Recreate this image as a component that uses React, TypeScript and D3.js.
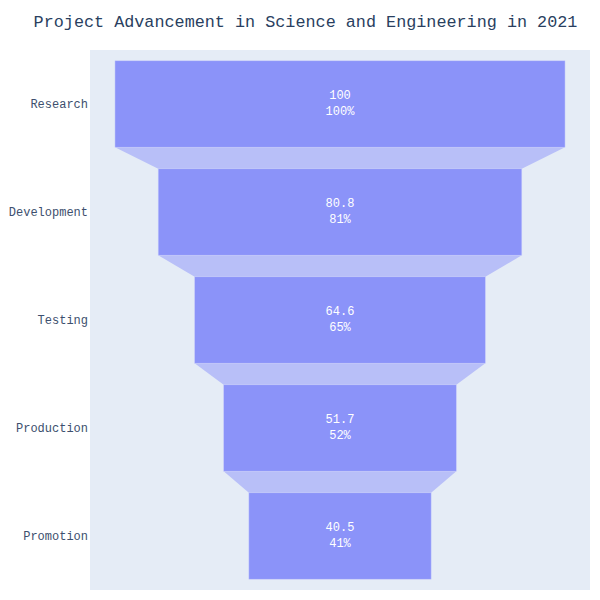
import React from "react";
import * as d3 from "d3";

// funnel stages and values
const stages = ["Research", "Development", "Testing", "Production", "Promotion"];
const values = [100, 80.8, 64.6, 51.7, 40.5];

const W = 600;
const H = 600;
const margin = { top: 50, right: 10, bottom: 10, left: 90 };
const font = "'Liberation Mono', 'Courier New', monospace";

export default function App() {
  const plotW = W - margin.left - margin.right;
  const plotH = H - margin.top - margin.bottom;

  const maxVal = d3.max(values) as number;
  // plotly pads the funnel range a bit around the widest bar
  const half = (maxVal / 2) * 1.111;
  const x = d3.scaleLinear().domain([-half, half]).range([margin.left, margin.left + plotW]);
  const y = d3
    .scaleBand<string>()
    .domain(stages)
    .range([margin.top, margin.top + plotH])
    .paddingInner(0.2)
    .paddingOuter(0.1);

  const bw = y.bandwidth();
  const first = values[0];

  // connectors between consecutive bars
  const connectors = stages.slice(0, -1).map((s, i) => {
    const v0 = values[i];
    const v1 = values[i + 1];
    const yTop = (y(s) as number) + bw;
    const yBot = y(stages[i + 1]) as number;
    const pts: [number, number][] = [
      [x(-v0 / 2), yTop],
      [x(v0 / 2), yTop],
      [x(v1 / 2), yBot],
      [x(-v1 / 2), yBot],
    ];
    return d3.line()(pts) + "Z";
  });

  return (
    <svg width={W} height={H} style={{ display: "block", margin: "-8px" }}>
      <rect width={W} height={H} fill="#fff" />
      <rect x={margin.left} y={margin.top} width={plotW} height={plotH} fill="#e5ecf6" />
      <text
        x={305.5}
        y={27}
        textAnchor="middle"
        fontFamily={font}
        fontSize={16.8}
        fill="#2a3f5f"
      >
        Project Advancement in Science and Engineering in 2021
      </text>

      {connectors.map((d, i) => (
        <path key={"c" + i} d={d} fill="#b8bff8" />
      ))}

      {stages.map((s, i) => {
        const v = values[i];
        const y0 = y(s) as number;
        const cx = x(0);
        const cy = y0 + bw / 2;
        return (
          <g key={s}>
            <rect
              x={x(-v / 2)}
              y={y0}
              width={x(v / 2) - x(-v / 2)}
              height={bw}
              fill="#8b93f9"
              stroke="#c9cefb"
              strokeWidth={0.5}
            />
            <text
              x={cx}
              y={cy - 5}
              textAnchor="middle"
              fontFamily={font}
              fontSize={12}
              fill="#fff"
            >
              {String(v)}
            </text>
            <text
              x={cx}
              y={cy + 11}
              textAnchor="middle"
              fontFamily={font}
              fontSize={12}
              fill="#fff"
            >
              {Math.round((v / first) * 100) + "%"}
            </text>
            <text
              x={margin.left - 2}
              y={cy + 4}
              textAnchor="end"
              fontFamily={font}
              fontSize={12}
              fill="#3d4f6e"
            >
              {s}
            </text>
          </g>
        );
      })}
    </svg>
  );
}
